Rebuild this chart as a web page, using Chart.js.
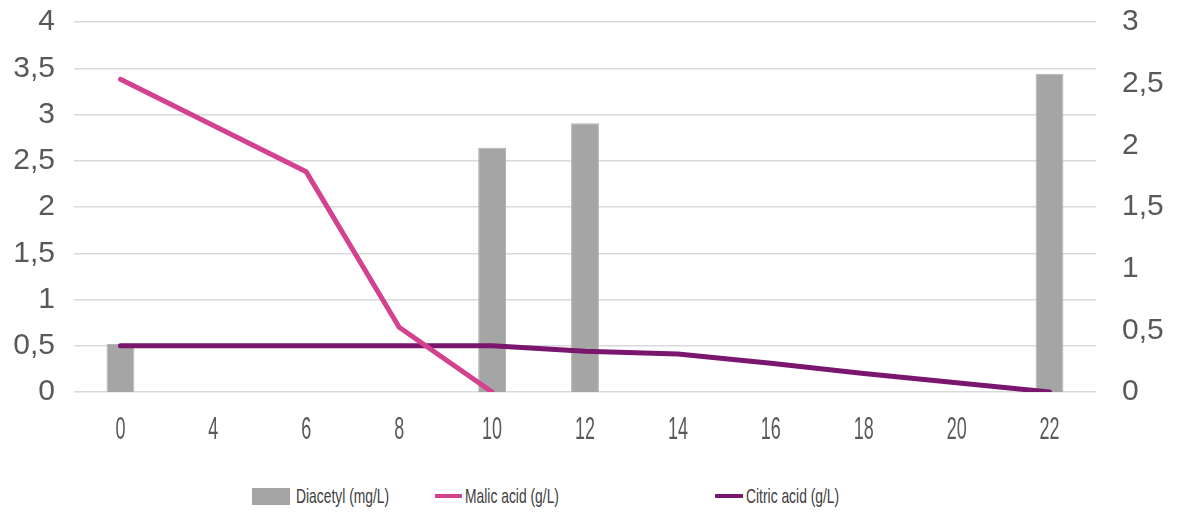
<!DOCTYPE html>
<html>
<head>
<meta charset="utf-8">
<script src="https://cdn.jsdelivr.net/npm/chart.js@4/dist/chart.umd.min.js"></script>
<style>
  html, body { margin: 0; padding: 0; background: #fff; overflow: hidden; }
  .wrap { position: relative; width: 1181px; height: 512px; overflow: hidden; }
  #chart { position: absolute; left: 0; top: -22px; }
  .legend {
    position: absolute; left: 0; top: 484px; width: 1181px; height: 24px;
    font-family: "Liberation Sans", Arial, sans-serif;
    font-size: 21px; color: #404040;
  }
  .legend .item { position: absolute; top: 0; display: flex; align-items: center; height: 24px; white-space: nowrap; }
  .legend .box { display: inline-block; margin-right: 6px; }
  .legend .txt { display: inline-block; transform: scaleX(0.66); transform-origin: left center; }
</style>
</head>
<body>
<div class="wrap">
  <canvas id="chart" width="1181" height="492"></canvas>
  <div class="legend" id="legend"></div>
</div>
<script>
// days of fermentation
const days = ['0', '4', '6', '8', '10', '12', '14', '16', '18', '20', '22'];
const diacetyl = [0.39, null, null, null, 1.98, 2.18, null, null, null, null, 2.58];
const malicAcid = [3.38, 2.88, 2.38, 0.70, 0, null, null, null, null, null, null];
const citricAcid = [0.5, 0.5, 0.5, 0.5, 0.5, 0.44, 0.41, 0.31, 0.2, 0.1, 0];
const leftTicks = [0, 0.5, 1, 1.5, 2, 2.5, 3, 3.5, 4];
const rightTicks = [0, 0.5, 1, 1.5, 2, 2.5, 3];

const grey = '#a5a5a5';
const pink = '#d3428f';
const purple = '#7a166e';
const tickColor = '#595959';

const fmt = v => String(v).replace('.', ',');

// x labels in a condensed face: squeeze a regular font horizontally
const condensedXLabels = {
    id: 'condensedXLabels',
    afterDraw(c) {
        const xs = c.scales.x;
        const g = c.ctx;
        g.save();
        g.fillStyle = tickColor;
        g.font = '31px "Liberation Sans", Arial, sans-serif';
        g.textAlign = 'center';
        g.textBaseline = 'middle';
        xs.ticks.forEach((t, i) => {
            const px = xs.getPixelForTick(i);
            g.save();
            g.translate(px, c.chartArea.bottom + 38);
            g.scale(0.58, 1);
            g.fillText(c.data.labels[i], 0, 0);
            g.restore();
        });
        g.restore();
    }
};

const ctx = document.getElementById('chart').getContext('2d');
const chart = new Chart(ctx, {
    type: 'bar',
    data: {
        labels: days,
        datasets: [
            {
                type: 'line',
                label: 'Malic acid (g/L)',
                data: malicAcid,
                yAxisID: 'y',
                borderColor: pink,
                borderWidth: 5,
                borderCapStyle: 'round',
                borderJoinStyle: 'round',
                pointRadius: 0,
                spanGaps: false,
                order: 1
            },
            {
                type: 'line',
                label: 'Citric acid (g/L)',
                data: citricAcid,
                yAxisID: 'y',
                borderColor: purple,
                borderWidth: 5,
                borderCapStyle: 'round',
                borderJoinStyle: 'round',
                pointRadius: 0,
                order: 2
            },
            {
                label: 'Diacetyl (mg/L)',
                data: diacetyl,
                yAxisID: 'y1',
                backgroundColor: grey,
                borderColor: '#b4b4b4',
                borderWidth: 1,
                barPercentage: 0.3,
                categoryPercentage: 1,
                order: 3
            }
        ]
    },
    options: {
        responsive: false,
        animation: false,
        layout: { padding: 0 },
        plugins: {
            legend: { display: false },
            tooltip: { enabled: false }
        },
        scales: {
            x: {
                grid: { display: false },
                border: { display: false },
                ticks: { display: false },
                afterFit: s => { s.height = 78; }
            },
            y: {
                position: 'left',
                min: 0,
                max: 4,
                afterBuildTicks: s => { s.ticks = leftTicks.map(v => ({ value: v })); },
                grid: { color: '#d9d9d9', lineWidth: 1.5, drawTicks: false },
                border: { display: false },
                ticks: {
                    color: tickColor,
                    padding: 19,
                    callback: v => fmt(v),
                    font: { family: '"Liberation Sans", Arial, sans-serif', size: 30 }
                },
                afterFit: s => { s.width = 74; }
            },
            y1: {
                position: 'right',
                min: 0,
                max: 3,
                afterBuildTicks: s => { s.ticks = rightTicks.map(v => ({ value: v })); },
                grid: { display: false, drawTicks: false },
                border: { display: false },
                ticks: {
                    color: tickColor,
                    padding: 26,
                    callback: v => fmt(v),
                    font: { family: '"Liberation Sans", Arial, sans-serif', size: 30 }
                },
                afterFit: s => { s.width = 85; }
            }
        }
    },
    plugins: [condensedXLabels]
});

// legend below the plot
const legendEl = document.getElementById('legend');
const legendItems = [
    { label: chart.data.datasets[2].label, color: grey, w: 38, h: 17, x: 252 },
    { label: chart.data.datasets[0].label, color: pink, w: 27, h: 4, x: 435 },
    { label: chart.data.datasets[1].label, color: purple, w: 28, h: 4, x: 715 }
];
legendItems.forEach(it => {
    const item = document.createElement('div');
    item.className = 'item';
    item.style.left = it.x + 'px';
    const box = document.createElement('span');
    box.className = 'box';
    box.style.width = it.w + 'px';
    box.style.height = it.h + 'px';
    box.style.background = it.color;
    if (it.h < 10) box.style.marginRight = '3px';
    item.appendChild(box);
    const txt = document.createElement('span');
    txt.className = 'txt';
    txt.textContent = it.label;
    item.appendChild(txt);
    legendEl.appendChild(item);
});
</script>
</body>
</html>
